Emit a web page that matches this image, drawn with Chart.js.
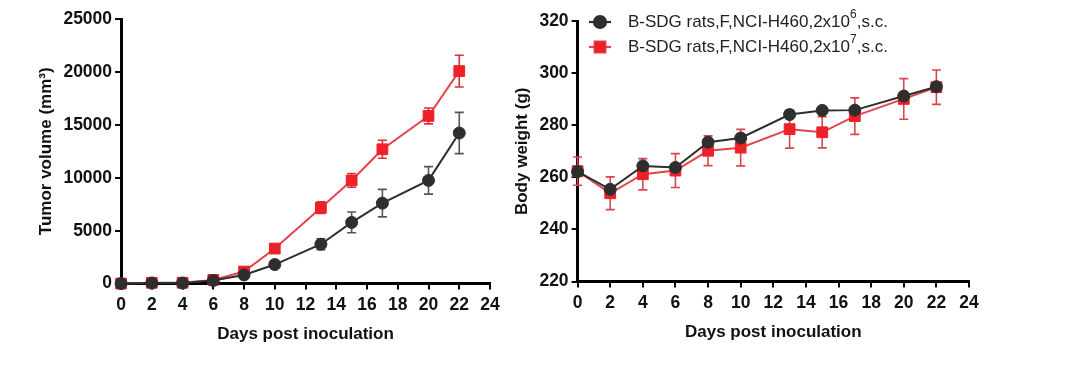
<!DOCTYPE html>
<html>
<head>
<meta charset="utf-8">
<script src="https://cdn.jsdelivr.net/npm/chart.js@4.4.0/dist/chart.umd.min.js"></script>
<style>
    html, body { margin: 0; padding: 0; background: #fff; }
    #wrap { position: relative; width: 1080px; height: 377px; }
    .panel { position: absolute; top: 0; height: 377px; }
    #tumorPanel { left: 0; width: 520px; }
    #weightPanel { left: 512px; width: 568px; }
</style>
</head>
<body>
<div id="wrap">
    <div class="panel" id="tumorPanel"><canvas id="tumorChart"></canvas></div>
    <div class="panel" id="weightPanel"><canvas id="weightChart"></canvas></div>
</div>
<script>
// Days post inoculation (shared by both panels)
const days = [0, 2, 4, 6, 8, 10, 13, 15, 17, 20, 22];
const xTicks = { min: 0, max: 24, step: 2 };

// Group names; text between ^ marks is drawn as superscript in the legend
const groupLabels = [
    'B-SDG rats,F,NCI-H460,2x10^6^,s.c.',
    'B-SDG rats,F,NCI-H460,2x10^7^,s.c.'
];

// Tumor volume (mm3), mean and SEM
const tumorLow = [0, 50, 50, 300, 820, 1800, 3720, 5780, 7600, 9750, 14230];
const tumorLowErr = [0, 20, 20, 60, 100, 150, 520, 980, 1300, 1300, 1950];
const tumorHigh = [0, 80, 80, 350, 1140, 3310, 7170, 9750, 12690, 15840, 20080];
const tumorHighErr = [0, 20, 20, 60, 120, 200, 550, 650, 850, 750, 1500];
const tumorTicks = { min: 0, max: 25000, step: 5000 };

// Body weight (g), mean and SEM
const weightLow = [262.2, 255.4, 264.4, 263.8, 273.5, 275.1, 284.1, 285.7, 285.8, 291.2, 294.8];
const weightLowErr = [1, 1, 1, 1, 1, 1, 1.5, 1, 1, 1, 1];
const weightHigh = [262.4, 253.9, 261.2, 262.6, 270.2, 271.4, 278.5, 277.3, 283.5, 290.1, 294.6];
const weightHighErr = [5.4, 6.3, 6, 6.5, 5.7, 7, 7.3, 6, 7, 7.8, 6.6];
const weightTicks = { min: 220, max: 320, step: 20 };

const FONT = '"Liberation Sans", Arial, sans-serif';
const BLACK = '#2e2e2e';
const RED = '#ee2028';
const RED_LINE = '#e2444c';

// draws error bars from dataset.errors through the chart scales
const errorBarPlugin = {
    id: 'errorBars',
    beforeDatasetsDraw(chart) {
        const ctx = chart.ctx;
        const yScale = chart.scales.y;
        chart.data.datasets.forEach((ds, di) => {
            if (!ds.errors) return;
            const meta = chart.getDatasetMeta(di);
            ctx.save();
            ctx.strokeStyle = ds.errorColor;
            ctx.lineWidth = 1.6;
            meta.data.forEach((pt, i) => {
                const v = ds.data[i].y, e = ds.errors[i];
                if (!e) return;
                const top = yScale.getPixelForValue(v + e);
                const bot = yScale.getPixelForValue(v - e);
                ctx.beginPath();
                ctx.moveTo(pt.x, top); ctx.lineTo(pt.x, bot);
                ctx.moveTo(pt.x - 4.5, top); ctx.lineTo(pt.x + 4.5, top);
                ctx.moveTo(pt.x - 4.5, bot); ctx.lineTo(pt.x + 4.5, bot);
                ctx.stroke();
            });
            ctx.restore();
        });
    }
};

// legend inside the plot area: line + marker + label with superscripts
const markerLegendPlugin = {
    id: 'markerLegend',
    afterDraw(chart, args, opts) {
        if (!opts.show) return;
        const ctx = chart.ctx;
        ctx.save();
        chart.data.datasets.forEach((ds, i) => {
            const y = opts.y + i * opts.rowGap;
            const x = opts.x;
            ctx.strokeStyle = ds.borderColor;
            ctx.lineWidth = 2.2;
            ctx.beginPath();
            ctx.moveTo(x, y); ctx.lineTo(x + 22, y);
            ctx.stroke();
            Chart.helpers.drawPoint(ctx, {
                pointStyle: ds.pointStyle,
                radius: ds.pointRadius,
                borderWidth: 1
            }, x + 11, y);
            ctx.fillStyle = ds.pointBackgroundColor;
            ctx.strokeStyle = ds.pointBorderColor;
            ctx.fill();
            // label text
            let tx = x + 39;
            ctx.fillStyle = '#222';
            ctx.textBaseline = 'middle';
            ds.label.split('^').forEach((part, k) => {
                if (k % 2 === 1) {
                    ctx.font = '12px ' + FONT;
                    ctx.fillText(part, tx, y - 7);
                } else {
                    ctx.font = '17px ' + FONT;
                    ctx.fillText(part, tx, y);
                }
                tx += ctx.measureText(part).width;
            });
        });
        ctx.restore();
    }
};

function series(ys) {
    return days.map((d, i) => ({ x: d, y: ys[i] }));
}

function makeDatasets(lowVals, lowErr, highVals, highErr, lowErrColor, highErrColor) {
    return [{
        label: groupLabels[0],
        data: series(lowVals),
        errors: lowErr,
        errorColor: lowErrColor,
        borderColor: BLACK,
        borderWidth: 2,
        pointStyle: 'circle',
        pointRadius: 6,
        pointBackgroundColor: BLACK,
        pointBorderColor: BLACK,
        pointBorderWidth: 1,
        clip: false
    }, {
        label: groupLabels[1],
        data: series(highVals),
        errors: highErr,
        errorColor: highErrColor,
        borderColor: RED_LINE,
        borderWidth: 2,
        pointStyle: 'rect',
        pointRadius: 7.6,
        pointBackgroundColor: RED,
        pointBorderColor: RED,
        pointBorderWidth: 1,
        clip: false
    }];
}

function axisOptions(ticks, title, isX) {
    return {
        type: 'linear',
        min: ticks.min,
        max: ticks.max,
        border: { display: true, color: '#000', width: 3 },
        grid: { drawOnChartArea: false, drawTicks: true, tickLength: 6, color: '#000', lineWidth: 2 },
        ticks: {
            stepSize: ticks.step,
            color: '#111',
            padding: isX ? 5 : 3,
            font: { family: FONT, size: 17.5, weight: 'bold' },
            callback: v => String(v)
        },
        title: {
            display: true,
            text: title,
            color: '#111',
            padding: isX ? { top: 4, bottom: 0 } : { top: 0, bottom: 4 },
            font: { family: FONT, size: 17, weight: 'bold' }
        }
    };
}

function buildChart(canvasId, datasets, yTicks, yTitle, padding, legend) {
    const ctx = document.getElementById(canvasId);
    return new Chart(ctx.getContext('2d'), {
        type: 'line',
        data: { datasets: datasets },
        options: {
            responsive: true,
            maintainAspectRatio: false,
            animation: false,
            layout: { padding: padding },
            plugins: {
                legend: { display: false },
                tooltip: { enabled: false },
                markerLegend: legend
            },
            scales: {
                x: axisOptions(xTicks, 'Days post inoculation', true),
                y: axisOptions(yTicks, yTitle, false)
            }
        },
        plugins: [errorBarPlugin, markerLegendPlugin]
    });
}

buildChart('tumorChart',
    makeDatasets(tumorLow, tumorLowErr, tumorHigh, tumorHighErr, '#555', '#d8323a'),
    tumorTicks, 'Tumor volume (mm³)',
    { left: 36, right: 30, top: 19, bottom: 32 },
    { show: false });

buildChart('weightChart',
    makeDatasets(weightLow, weightLowErr, weightHigh, weightHighErr, '#777', '#d9444e'),
    weightTicks, 'Body weight (g)',
    { left: 0, right: 111, top: 21, bottom: 34 },
    { show: true, x: 77, y: 22, rowGap: 25 });
</script>
</body>
</html>
